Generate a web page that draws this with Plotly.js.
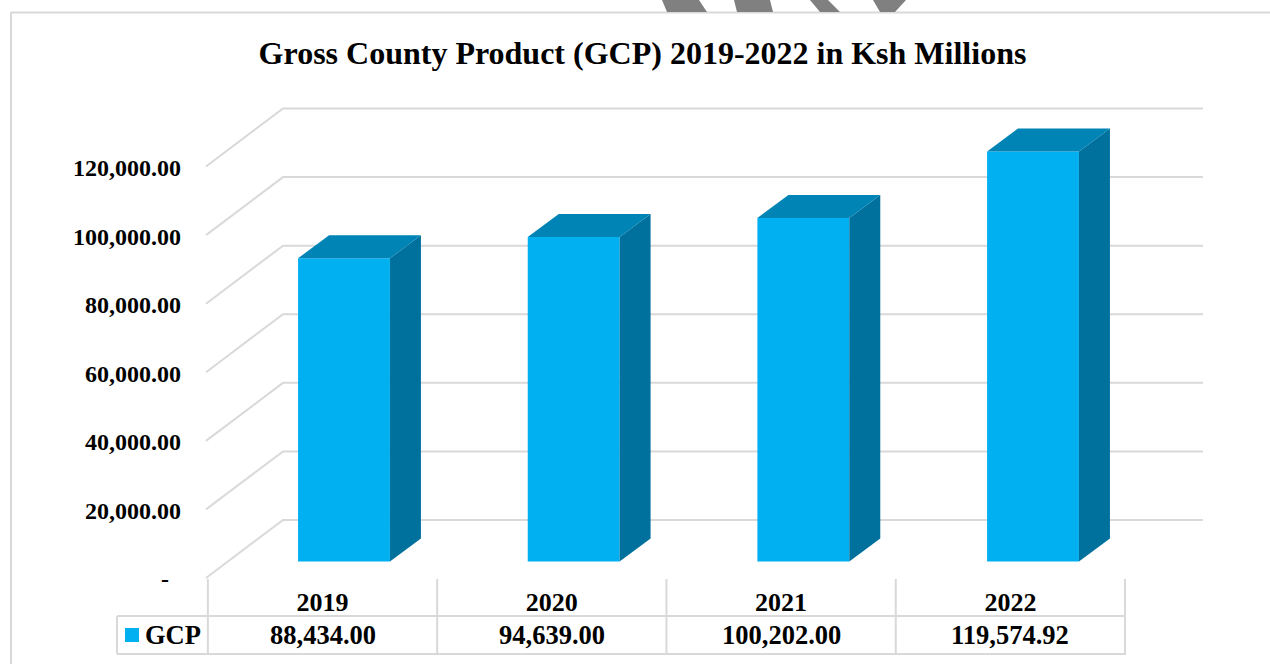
<!DOCTYPE html>
<html>
<head>
<meta charset="utf-8">
<script src="https://cdn.plot.ly/plotly-3.0.1.min.js"></script>
<style>
  html, body { margin: 0; padding: 0; background: #fff; }
  #chart { width: 1270px; height: 664px; }
</style>
</head>
<body>
<div id="chart"></div>
<script>
// Values
const years = ['2019', '2020', '2021', '2022'];
const gcp = [88434.00, 94639.00, 100202.00, 119574.92];
const axisTicks = [0, 20000, 40000, 60000, 80000, 100000, 120000];
const axisTickLabels = ['-\u00a0\u00a0', '20,000.00', '40,000.00', '60,000.00', '80,000.00', '100,000.00', '120,000.00'];
const seriesName = 'GCP';
const chartTitle = 'Gross County Product (GCP) 2019-2022 in Ksh Millions';

// Figure size and the pseudo-3D scale
const W = 1270, H = 664;
const pxPerCategory = 229.67;
const pxPerTableColumn = 229.3;
const pxPerUnit = 68.58 / 20000;

// Pixel origin (first category, value 0) of each depth plane
const frontPlane = { x: 322.5, y: 579 };
const barPlane = { x: 344, y: 561.5 };
const backPlane = { x: 398, y: 520 };

const barWidth = 0.4;
const barDepthX = 31 / pxPerCategory;
const barDepthY = 23 / pxPerUnit;

// Wall extents in category units of the back plane
const wallLeft = (283 - backPlane.x) / pxPerCategory;
const wallRight = (1203 - backPlane.x) / pxPerCategory;
const wallFrontX = (206 - backPlane.x) / pxPerCategory;
const wallFrontDrop = 58 / pxPerUnit;

const GRID = '#D9D9D9';
const FONT = '"Liberation Serif", "Times New Roman", serif';
const FACE = '#00B0F0', TOP = '#0084B5', SIDE = '#00709D';

const rangeX = (p, step) => [-p.x / step, (W - p.x) / step];
const rangeY = p => [(p.y - H) / pxPerUnit, p.y / pxPerUnit];
const px = v => v / W;
const py = v => 1 - v / H;

// Back wall and side wall gridlines
const gridX = [], gridY = [];
axisTicks.forEach(v => {
  gridX.push(wallFrontX, wallLeft, wallRight, null);
  gridY.push(v - wallFrontDrop, v, v, null);
});

// Side and top faces of the bars
const sideX = [], sideY = [], topX = [], topY = [];
gcp.forEach((v, i) => {
  const l = i - barWidth / 2, r = i + barWidth / 2;
  sideX.push(r, r + barDepthX, r + barDepthX, r, r, null);
  sideY.push(0, barDepthY, v + barDepthY, v, 0, null);
  topX.push(l, l + barDepthX, r + barDepthX, r, l, null);
  topY.push(v, v + barDepthY, v + barDepthY, v, v, null);
});

const traces = [
  { type: 'scatter', mode: 'lines', x: gridX, y: gridY, xaxis: 'x', yaxis: 'y',
    line: { color: GRID, width: 2 }, hoverinfo: 'skip', showlegend: false },
  { type: 'bar', name: seriesName, x: years.map((_, i) => i), y: gcp, width: barWidth,
    xaxis: 'x2', yaxis: 'y2', marker: { color: FACE, line: { width: 0 } }, showlegend: false },
  { type: 'scatter', mode: 'lines', x: sideX, y: sideY, xaxis: 'x2', yaxis: 'y2', fill: 'toself',
    fillcolor: SIDE, line: { width: 0 }, hoverinfo: 'skip', showlegend: false },
  { type: 'scatter', mode: 'lines', x: topX, y: topY, xaxis: 'x2', yaxis: 'y2', fill: 'toself',
    fillcolor: TOP, line: { width: 0 }, hoverinfo: 'skip', showlegend: false },
  // Carries the front-plane axes that hold the tick labels
  { type: 'scatter', mode: 'markers', x: [0], y: [0], xaxis: 'x3', yaxis: 'y3',
    marker: { opacity: 0, size: 1 }, hoverinfo: 'skip', showlegend: false }
];

const hidden = { visible: false, fixedrange: true };

// Data table rules under the plot
const rule = (x0, y0, x1, y1, xref) => ({
  type: 'line', xref: xref || 'paper', yref: 'paper',
  x0: xref ? x0 : px(x0), x1: xref ? x1 : px(x1), y0: py(y0), y1: py(y1),
  line: { color: GRID, width: 2 }, layer: 'below'
});
const shapes = [
  rule(11, 12, 11, H),
  rule(11, 12.5, W, 12.5),
  rule(117, 616, 1125, 616),
  rule(117, 654, 1126, 654),
  rule(117, 616, 117, 654)
];
years.concat('').forEach((_, i) => shapes.push(rule(i - 0.5, 579, i - 0.5, 654, 'x3')));

// Legend key inside the table
shapes.push({ type: 'rect', xref: 'paper', yref: 'paper', x0: px(125), x1: px(139), y0: py(642), y1: py(628),
  fillcolor: FACE, line: { width: 0 } });

// Grey stripes above the chart frame
const stripes = [
  [[662, 0], [699, 0], [707, 12], [667, 12]],
  [[734, 0], [770, 0], [773, 12], [737, 12]],
  [[810, 0], [828, 0], [840, 12], [820, 12]],
  [[873, 0], [906, 0], [895, 12], [880, 12]]
];
stripes.forEach(s => shapes.push({
  type: 'path', xref: 'paper', yref: 'paper', fillcolor: '#808080', line: { width: 0 },
  path: s.map((p, i) => (i ? 'L' : 'M') + px(p[0]) + ',' + py(p[1])).join(' ') + ' Z'
}));

const money = v => v.toLocaleString('en-US', { minimumFractionDigits: 2, maximumFractionDigits: 2 });
const annotations = gcp.map((v, i) => ({
  xref: 'x3', yref: 'paper', x: i, y: py(635), text: '<b>' + money(v) + '</b>', showarrow: false,
  xanchor: 'center', yanchor: 'middle', font: { family: FONT, size: 26.5, color: '#000' }
}));
annotations.push({
  xref: 'paper', yref: 'paper', x: px(143), y: py(635), text: '<b>' + seriesName + '</b>', showarrow: false,
  xanchor: 'left', yanchor: 'middle', font: { family: FONT, size: 26.5, color: '#000' }
});

const layout = {
  width: W, height: H,
  margin: { l: 0, r: 0, t: 0, b: 0, pad: 0 },
  paper_bgcolor: '#fff', plot_bgcolor: 'rgba(0,0,0,0)',
  showlegend: false, hovermode: 'closest',
  title: { text: '<b>' + chartTitle + '</b>', x: px(642.5), xanchor: 'center', y: py(53), yanchor: 'middle',
    font: { family: FONT, size: 32, color: '#000' } },
  xaxis: Object.assign({ range: rangeX(backPlane, pxPerCategory) }, hidden),
  yaxis: Object.assign({ range: rangeY(backPlane) }, hidden),
  xaxis2: Object.assign({ range: rangeX(barPlane, pxPerCategory), overlaying: 'x' }, hidden),
  yaxis2: Object.assign({ range: rangeY(barPlane), overlaying: 'y' }, hidden),
  xaxis3: {
    range: rangeX(frontPlane, pxPerTableColumn), overlaying: 'x', anchor: 'free', position: py(584), fixedrange: true,
    tickmode: 'array', tickvals: years.map((_, i) => i), ticktext: years.map(y => '<b>' + y + '</b>'),
    ticks: '', showgrid: false, zeroline: false, showline: false,
    tickfont: { family: FONT, size: 26, color: '#000' }
  },
  yaxis3: {
    range: rangeY(frontPlane), overlaying: 'y', anchor: 'free', position: px(181), side: 'left', fixedrange: true,
    tickmode: 'array', tickvals: axisTicks, ticktext: axisTickLabels.map(t => '<b>' + t + '</b>'),
    ticks: '', showgrid: false, zeroline: false, showline: false,
    tickfont: { family: FONT, size: 24, color: '#000' }
  },
  shapes: shapes,
  annotations: annotations
};

Plotly.newPlot('chart', traces, layout, { displayModeBar: false, responsive: false });
</script>
</body>
</html>
